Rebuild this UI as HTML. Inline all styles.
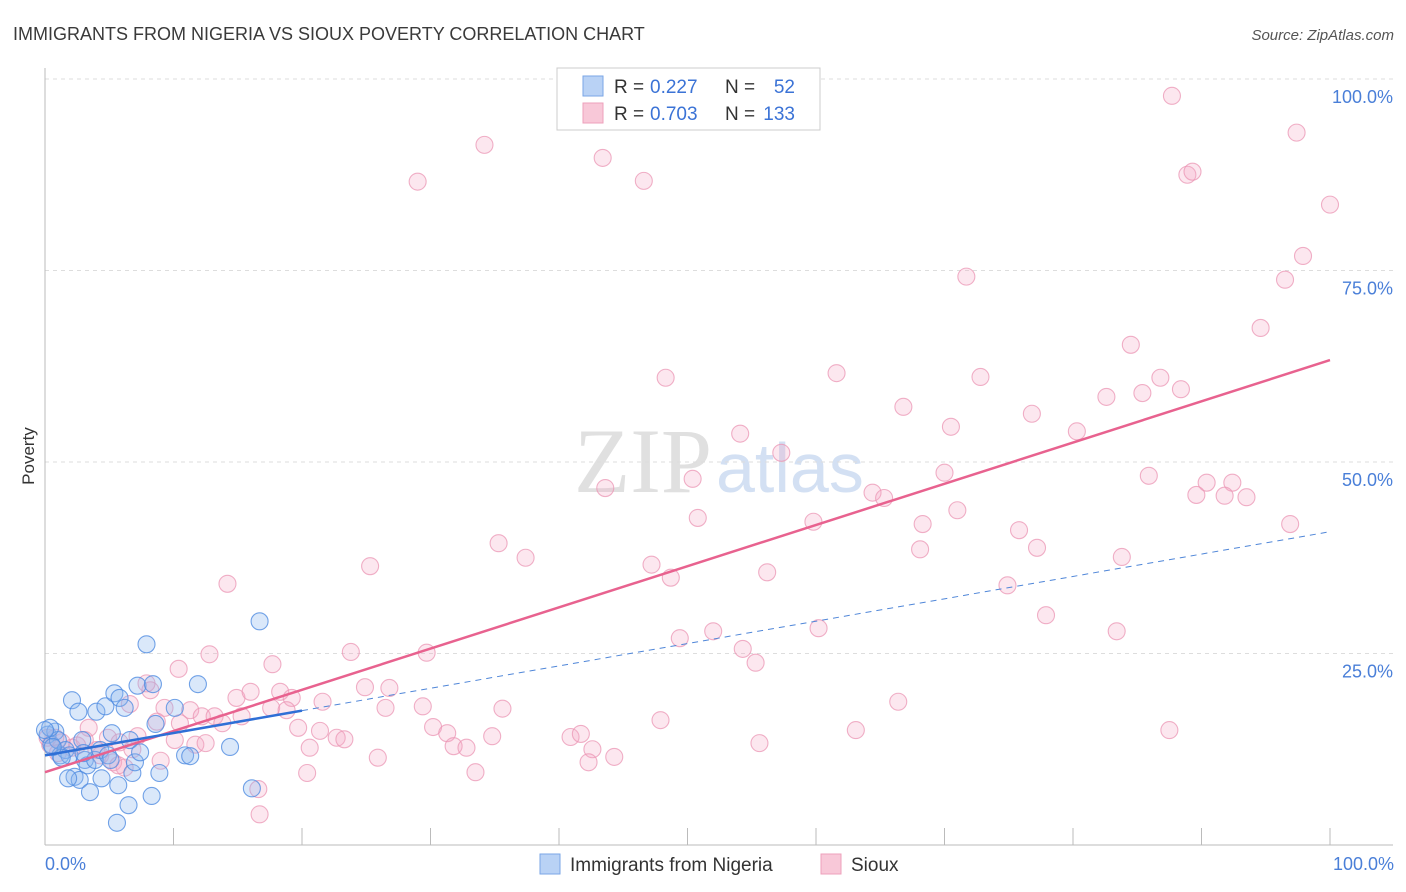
<!DOCTYPE html>
<html><head><meta charset="utf-8"><style>
body{margin:0;background:#fff;font-family:"Liberation Sans",sans-serif}
svg{display:block}
</style></head><body>
<svg width="1406" height="892" id="c">
<text x="13" y="40" font-size="18" fill="#3a3a3a">IMMIGRANTS FROM NIGERIA VS SIOUX POVERTY CORRELATION CHART</text>
<text x="1394" y="40" font-size="15" fill="#555" font-style="italic" text-anchor="end">Source: ZipAtlas.com</text>
<text x="712" y="492" font-size="92" fill="#e0e0e0" text-anchor="end" font-family="Liberation Serif,serif">ZIP</text>
<text x="716" y="492" font-size="70" fill="#d3e0f3">atlas</text>
<text x="34" y="456" font-size="17" fill="#333" transform="rotate(-90 34 456)" text-anchor="middle">Poverty</text>
<g id="grid"></g><g id="pts"></g><g id="lines"></g>
<g>
<rect x="557" y="68" width="263" height="62" fill="#fff" stroke="#ccc"/>
<rect x="583" y="76" width="20" height="20" fill="#b9d2f5" stroke="#7aa6e6"/>
<rect x="583" y="103" width="20" height="20" fill="#f8c8d8" stroke="#eea0bb"/>
<text x="614" y="93" font-size="19" fill="#333">R =</text>
<text x="650" y="93" font-size="19" fill="#3b73d6">0.227</text>
<text x="725" y="93" font-size="19" fill="#333">N =</text>
<text x="795" y="93" font-size="19" fill="#3b73d6" text-anchor="end">52</text>
<text x="614" y="120" font-size="19" fill="#333">R =</text>
<text x="650" y="120" font-size="19" fill="#3b73d6">0.703</text>
<text x="725" y="120" font-size="19" fill="#333">N =</text>
<text x="795" y="120" font-size="19" fill="#3b73d6" text-anchor="end">133</text>
</g>
<text x="45" y="870" font-size="18" fill="#4a7fd8">0.0%</text>
<text x="1394" y="870" font-size="18" fill="#4a7fd8" text-anchor="end">100.0%</text>
<g>
<rect x="540" y="854" width="20" height="20" fill="#b9d2f5" stroke="#7aa6e6"/>
<text x="570" y="871" font-size="19" fill="#333">Immigrants from Nigeria</text>
<rect x="821" y="854" width="20" height="20" fill="#f8c8d8" stroke="#eea0bb"/>
<text x="851" y="871" font-size="19" fill="#333">Sioux</text>
</g>
</svg>
<script>
const yTicks=[25,50,75,100];
const yTickLabels=["25.0%","50.0%","75.0%","100.0%"];
const nigeriaX=[0.2,0.5,0.8,1.0,0.4,1.2,1.6,1.9,2.1,2.3,2.6,2.7,2.9,3.1,3.3,3.5,3.9,4.0,4.3,4.4,4.7,4.9,5.1,5.2,5.4,5.7,5.8,6.2,6.5,6.6,6.8,7.0,7.2,7.4,7.9,8.3,8.4,8.6,8.9,10.1,10.9,11.3,11.9,14.4,16.1,16.7,5.6,1.8,1.3,0,0.6,3.0];
const nigeriaY=[14.4,13.1,14.8,13.7,15.3,11.7,12.4,11.7,18.9,8.9,17.4,8.5,13.7,11.1,10.4,6.9,11.1,17.4,12.4,8.7,18.1,11.7,11.1,14.6,19.8,7.8,19.2,17.9,5.2,13.7,9.4,10.8,20.8,12.1,26.2,6.4,21.0,15.8,9.4,17.9,11.7,11.6,21.0,12.8,7.4,29.2,2.9,8.7,11.4,15.0,12.8,12.0];
const siouxX=[87.7,34.2,43.4,29.0,46.6,97.4,88.9,89.3,100,97.9,96.5,71.7,94.6,84.5,48.3,61.6,72.8,86.8,82.6,85.4,88.4,66.8,76.8,80.3,54.1,70.5,57.3,43.6,50.4,70.0,85.9,90.4,92.4,64.4,65.3,89.6,91.8,93.5,50.8,59.8,68.3,71.0,96.9,75.8,35.3,37.4,68.1,77.2,83.8,25.3,47.2,48.7,56.2,14.2,74.9,77.9,60.2,83.4,49.4,52.0,54.3,55.3,23.8,29.7,12.8,10.4,17.7,8.2,7.9,14.9,16.0,18.3,19.2,21.6,24.9,26.8,6.6,9.3,11.3,12.2,13.2,15.3,17.6,18.8,26.5,29.4,35.6,66.4,47.9,8.7,10.5,13.8,19.7,21.4,22.7,23.3,30.2,31.3,34.8,40.9,41.7,55.6,63.1,87.5,3.4,4.9,5.8,10.1,11.7,12.5,7.2,1.3,2.1,0.4,0.8,4.0,4.3,5.3,6.2,20.6,31.8,32.8,42.6,25.9,44.3,42.3,20.4,33.5,16.6,16.7,5.7,3.1,0.2,1.0,2.5,6.8,9.0];
const siouxY=[97.8,91.4,89.7,86.6,86.7,93.0,87.5,87.9,83.6,76.9,73.8,74.2,67.5,65.3,61.0,61.6,61.1,61.0,58.5,59.0,59.5,57.2,56.3,54.0,53.7,54.6,51.2,46.6,47.8,48.6,48.2,47.3,47.3,46.0,45.3,45.7,45.6,45.4,42.7,42.2,41.9,43.7,41.9,41.1,39.4,37.5,38.6,38.8,37.6,36.4,36.6,34.9,35.6,34.1,33.9,30.0,28.3,27.9,27.0,27.9,25.6,23.8,25.2,25.1,24.9,23.0,23.6,20.2,21.1,19.2,20.0,20.0,19.2,18.7,20.6,20.5,18.4,17.9,17.6,16.8,16.8,16.8,17.9,17.6,17.9,18.1,17.8,18.7,16.3,16.1,15.9,15.9,15.3,14.9,14.0,13.8,15.4,14.6,14.2,14.1,14.5,13.3,15.0,15.0,15.3,14.0,13.4,13.7,13.1,13.3,14.2,13.4,12.7,13.1,14.0,12.4,11.7,10.8,10.1,12.7,12.9,12.7,12.5,11.4,11.5,10.8,9.4,9.5,7.3,4.0,10.4,13.7,14.0,12.0,13.0,12.5,11.0];
const nigeriaFit=[11.7,40.9]; // y at x=0 and x=100
const siouxFit=[9.5,63.3];
const NS="http://www.w3.org/2000/svg";
const X0=45,X1=1330,Y0=845,Y1=79;
const sx=v=>X0+(X1-X0)*v/100, sy=v=>Y0-(Y0-Y1)*v/100;
function mk(t,a,p){const e=document.createElementNS(NS,t);for(const k in a)e.setAttribute(k,a[k]);p.appendChild(e);return e;}
const grid=document.getElementById('grid');
yTicks.forEach((t,i)=>{
 const l=mk('line',{x1:X0,x2:1393,y1:sy(t),y2:sy(t),stroke:'#ddd','stroke-dasharray':'4,4'},grid);
 
 
 const tx=mk('text',{x:1393,y:sy(t)+24,'font-size':18,fill:'#4a7fd8','text-anchor':'end'},grid);
 tx.textContent=yTickLabels[i];
 
 
});
const ax=mk('line',{x1:X0,x2:X0,y1:68,y2:Y0,stroke:'#bbb'},grid);


const bx=mk('line',{x1:X0,x2:1393,y1:Y0,y2:Y0,stroke:'#bbb'},grid);


for(let k=1;k<=10;k++){const t=mk('line',{x1:sx(k*10),x2:sx(k*10),y1:828,y2:Y0,stroke:'#bbb'},grid);
 
 }
const pts=document.getElementById('pts');
siouxX.forEach((x,i)=>{const c=mk('circle',{cx:sx(x),cy:sy(siouxY[i]),r:8.5,fill:'rgba(246,170,196,0.28)',stroke:'rgba(235,150,180,0.75)','stroke-width':1.1},pts);
 
 });
nigeriaX.forEach((x,i)=>{const c=mk('circle',{cx:sx(x),cy:sy(nigeriaY[i]),r:8.5,fill:'rgba(140,182,238,0.32)',stroke:'rgba(80,140,225,0.8)','stroke-width':1.1},pts);
 
 });
const lines=document.getElementById('lines');
const fy=(f,x)=>f[0]+(f[1]-f[0])*x/100;
const l1=mk('line',{x1:sx(0),y1:sy(fy(siouxFit,0)),x2:sx(100),y2:sy(fy(siouxFit,100)),stroke:'#e8628f','stroke-width':2.5},lines);


const l2=mk('line',{x1:sx(20),y1:sy(fy(nigeriaFit,20)),x2:sx(100),y2:sy(fy(nigeriaFit,100)),stroke:'#4f86d8','stroke-width':1,'stroke-dasharray':'6,5'},lines);


const l3=mk('line',{x1:sx(0),y1:sy(fy(nigeriaFit,0)),x2:sx(20),y2:sy(fy(nigeriaFit,20)),stroke:'#2f6fd6','stroke-width':2.5},lines);


</script>
</body></html>
